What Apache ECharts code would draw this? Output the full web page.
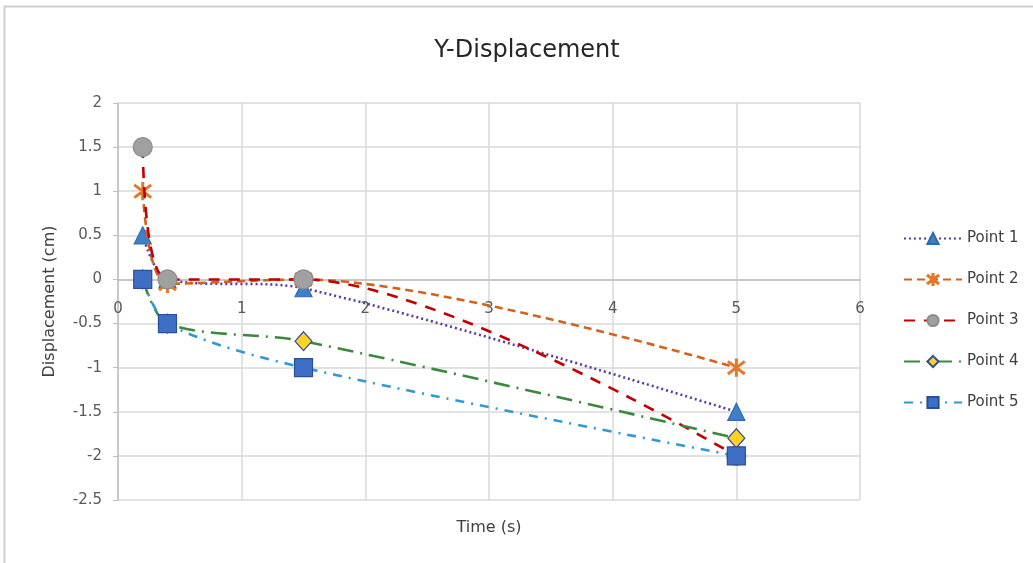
<!DOCTYPE html>
<html><head><meta charset="utf-8">
<script src="https://cdn.jsdelivr.net/npm/echarts@6/dist/echarts.min.js"></script>
<style>html,body{margin:0;padding:0;background:#fff}#c{width:1033px;height:563px}</style>
</head><body><div id="c"></div>
<script>
var seriesNames = ['Point 1', 'Point 2', 'Point 3', 'Point 4', 'Point 5'];
var times = [0.2, 0.4, 1.5, 5];
var point1 = [0.5, 0, -0.1, -1.5];
var point2 = [1, -0.05, 0, -1];
var point3 = [1.5, 0, 0, -2];
var point4 = [0, -0.5, -0.7, -1.8];
var point5 = [0, -0.5, -1, -2];
var yTicks = [-2.5, -2, -1.5, -1, -0.5, 0, 0.5, 1, 1.5, 2];
var xTicks = [0, 1, 2, 3, 4, 5, 6];

function pairs(vals){ return times.map(function(t,i){ return [t, vals[i]]; }); }

var asterisk = 'path://M9,0L11,0L11,20L9,20Z M0.4,3.8L1.6,2.2L19.6,16.2L18.4,17.8Z M18.4,2.2L19.6,3.8L1.6,17.8L0.4,16.2Z';
var font = 'DejaVu Sans';

var styles = [
  {data: point1, line: '#5b3a9e', type: [2, 3], symbol: 'triangle', size: [17, 17], fill: '#3f7fc6', border: '#2e6aad'},
  {data: point2, line: '#d0641e', type: [8, 5], symbol: asterisk, size: [17, 17], fill: '#e2782c', border: '#e2782c'},
  {data: point3, line: '#c00000', type: [11, 9], symbol: 'circle', size: [19, 19], fill: '#a0a0a0', border: '#8c8c8c'},
  {data: point4, line: '#3b8a3b', type: [16, 7, 2, 7], symbol: 'diamond', size: [17, 19], fill: '#ffd21f', border: '#2f4f9f'},
  {data: point5, line: '#2f9ad6', type: [9, 7, 2, 7], symbol: 'rect', size: [18, 18], fill: '#3f6fc4', border: '#2a4f9a'}
];

var series = styles.map(function(s, i){
  return {
    name: seriesNames[i], type: 'line', data: pairs(s.data), smooth: 0.3,
    symbol: s.symbol, symbolSize: s.size,
    lineStyle: {color: s.line, width: 2.6, type: s.type},
    itemStyle: {color: s.fill, borderColor: s.border, borderWidth: 1.2},
    z: 2 + i
  };
});

var chart = echarts.init(document.getElementById('c'), null, {renderer: 'canvas'});
chart.setOption({
  backgroundColor: '#fff',
  animation: false,
  title: {text: 'Y-Displacement', left: 522, top: 34, textAlign: 'center',
    textStyle: {fontFamily: font, fontSize: 24, fontWeight: 'normal', color: '#262626'}},
  grid: {left: 118, right: 173, top: 103, bottom: 63, containLabel: false, outerBoundsMode: 'none'},
  legend: {
    orient: 'vertical', left: 898, top: 226, itemWidth: 58, itemHeight: 14, itemGap: 26,
    textStyle: {fontFamily: font, fontSize: 15, color: '#404040'},
    data: seriesNames
  },
  xAxis: {
    type: 'value', min: xTicks[0], max: xTicks[xTicks.length-1], interval: 1,
    name: 'Time (s)', nameLocation: 'middle', nameGap: 20,
    nameTextStyle: {fontFamily: font, fontSize: 16, color: '#404040'},
    axisLine: {onZero: true, lineStyle: {color: '#bfbfbf', width: 1.5}},
    axisTick: {show: false},
    axisLabel: {fontFamily: font, fontSize: 15, color: '#595959', margin: -198},
    splitLine: {show: true, lineStyle: {color: '#d9d9d9', width: 1.5}}
  },
  yAxis: {
    type: 'value', min: yTicks[0], max: yTicks[yTicks.length-1], interval: 0.5,
    name: 'Displacement (cm)', nameLocation: 'middle', nameGap: 60, nameRotate: 90,
    nameTextStyle: {fontFamily: font, fontSize: 16, color: '#404040'},
    axisLine: {show: true, onZero: false, lineStyle: {color: '#bfbfbf', width: 1.5}},
    axisTick: {show: true, length: 5, lineStyle: {color: '#bfbfbf'}},
    axisLabel: {fontFamily: font, fontSize: 15, color: '#595959', margin: 16},
    splitLine: {show: true, lineStyle: {color: '#d9d9d9', width: 1.5}}
  },
  graphic: [
    {type: 'rect', shape: {x: 4.5, y: 6.5, width: 1040, height: 570}, style: {fill: 'none', stroke: '#cfcfcf', lineWidth: 2}, silent: true}
  ],
  series: series
});
</script></body></html>
